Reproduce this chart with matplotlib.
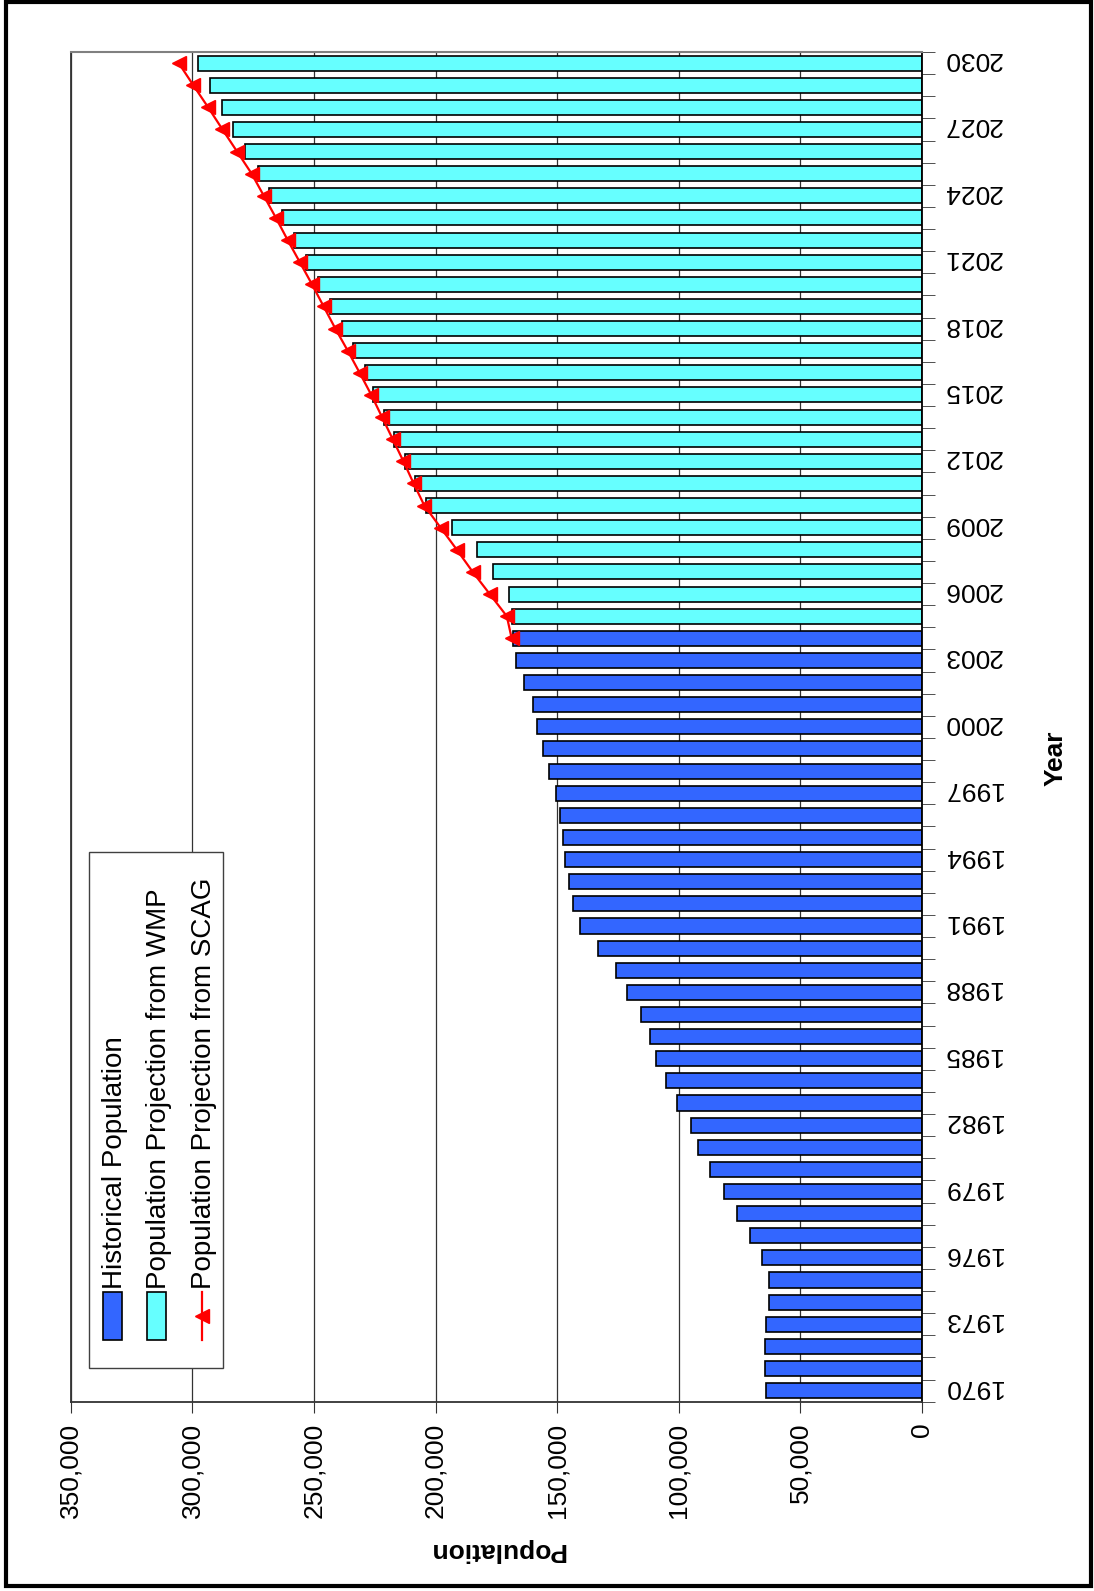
import matplotlib.pyplot as plt
from matplotlib.patches import Rectangle
from matplotlib.lines import Line2D
from matplotlib.transforms import ScaledTranslation

plt.rcParams['font.family'] = ['Liberation Sans', 'DejaVu Sans']

# --- data ---
years = list(range(1970, 2031))
hist_years = list(range(1970, 2005))
historical = [64100, 64700, 64400, 64000, 62800, 63000, 65800, 70600, 75900, 81300,
              87300, 92200, 94800, 100700, 105100, 109200, 111700, 115400, 121400, 125700,
              133300, 140600, 143500, 145100, 146900, 147700, 148800, 150600, 153300, 155800,
              158100, 160000, 163700, 166800, 168100]
wmp_years = list(range(2005, 2031))
wmp = [168400, 169700, 176200, 183100, 193300, 203900, 208300, 212700, 216900, 221300,
       225600, 229000, 233800, 238600, 243500, 248300, 253400, 258300, 263100, 268300,
       273100, 278200, 283100, 288000, 292800, 297800]
scag_years = list(range(2004, 2031))
scag = [168700, 170700, 177700, 184700, 191200, 197900, 204600, 209000, 213200, 217600,
        222000, 226400, 231200, 236100, 241200, 246000, 250800, 255800, 260800, 265600,
        270600, 275600, 281600, 287600, 293500, 299600, 305600]
pop_ticks = list(range(0, 350001, 50000))
year_labels = years[::3]

BLUE = '#3366FF'
CYAN = '#66FFFF'
RED = '#FF0000'

W, H = 1094, 1591
fig = plt.figure(figsize=(W / 100, H / 100), dpi=100)


def fx(x):
    return x / W


def fy(y):
    return 1 - y / H


# chart is laid out sideways: years run up the right edge, population grows leftwards
ax = fig.add_axes([fx(70.7), fy(1401.7), (922 - 70.7) / W, (1401.7 - 52) / H])
ax.set_axisbelow(True)

ax.barh(hist_years, historical, height=0.68, color=BLUE, edgecolor='black', linewidth=1.2, zorder=2)
ax.barh(wmp_years, wmp, height=0.68, color=CYAN, edgecolor='black', linewidth=1.2, zorder=2)
ax.plot(scag, scag_years, color=RED, lw=1.6, marker='<', ms=10, mec=RED, mfc=RED, zorder=3)

ax.set_xlim(350000, 0)
ax.set_ylim(1969.5, 2030.5)

ax.set_xticks(pop_ticks)
ax.set_xticklabels([f'{v:,}' for v in pop_ticks])
ax.tick_params(axis='x', labelrotation=90, labelsize=19, length=8, pad=7,
               direction='out', color='#333333')
ax.grid(axis='x', color='#333333', lw=0.9)

ax.yaxis.tick_right()
ax.set_yticks(year_labels)
ax.set_yticklabels([str(y) for y in year_labels], va='center')
ax.set_yticks([y - 0.5 for y in years] + [2030.5], minor=True)
ax.tick_params(axis='y', which='major', length=0, labelsize=19, labelrotation=180, pad=15)
ax.tick_params(axis='y', which='minor', length=9, direction='out', color='#333333',
               right=True, left=False)
# upside-down digits sit low in their box; nudge them back onto the bar centres
nudge = ScaledTranslation(0, 4 / 100, fig.dpi_scale_trans)
for tick in ax.yaxis.get_major_ticks():
    tick.label2.set_va('center')
    tick.label2.set_transform(tick.label2.get_transform() + nudge)

for side in ['left', 'bottom']:
    ax.spines[side].set_color('#333333')
    ax.spines[side].set_linewidth(1.3)
ax.spines['top'].set_color('#808080')
ax.spines['top'].set_linewidth(1.5)
ax.spines['right'].set_color('black')
ax.spines['right'].set_linewidth(1.3)

# axis titles
fig.text(fx(497), fy(1550), 'Population', rotation=180, ha='center', va='center',
         fontsize=19, fontweight='bold')
fig.text(fx(1056), fy(758), 'Year', rotation=90, ha='center', va='center',
         fontsize=19, fontweight='bold')

# legend box, drawn by hand so its text can run sideways
fig.add_artist(Rectangle((fx(89), fy(1368)), (223 - 89) / W, (1368 - 852) / H,
                         transform=fig.transFigure, facecolor='white',
                         edgecolor='#404040', lw=1, zorder=5))
fig.add_artist(Rectangle((fx(103), fy(1340)), 19 / W, 48 / H, transform=fig.transFigure,
                         facecolor=BLUE, edgecolor='black', lw=1.2, zorder=6))
fig.add_artist(Rectangle((fx(147), fy(1340)), 19 / W, 48 / H, transform=fig.transFigure,
                         facecolor=CYAN, edgecolor='black', lw=1.2, zorder=6))
fig.add_artist(Line2D([fx(202), fx(202)], [fy(1292), fy(1340)], transform=fig.transFigure,
                      color=RED, lw=1.6, zorder=6))
fig.add_artist(Line2D([fx(202)], [fy(1316)], transform=fig.transFigure, color=RED,
                      marker='<', ms=10, zorder=6))

legend_items = [(122, 'Historical Population'),
                (166, 'Population Projection from WMP'),
                (211, 'Population Projection from SCAG')]
for bx, label in legend_items:
    fig.text(fx(bx), fy(1289), label, rotation=90, rotation_mode='anchor',
             ha='left', va='baseline', fontsize=20, zorder=7)

# outer frame
fig.add_artist(Rectangle((fx(6), fy(1586)), (1091 - 6) / W, (1586 - 1.5) / H,
                         transform=fig.transFigure, fill=False, edgecolor='black', lw=3, zorder=10))

fig.savefig('out.png', dpi=100)
